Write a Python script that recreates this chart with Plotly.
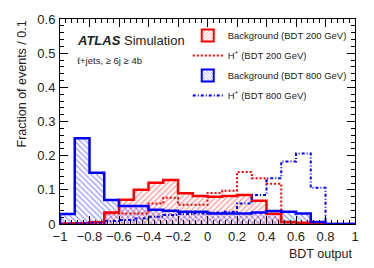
import numpy as np
import plotly.graph_objects as go

# ---- data ----
edges = np.round(np.arange(-1.0, 1.0001, 0.1), 2)
centers = (edges[:-1] + edges[1:]) / 2

bkg200 = [0.001, 0.002, 0.005, 0.034, 0.071, 0.100, 0.121, 0.129, 0.090, 0.082,
          0.080, 0.082, 0.085, 0.068, 0.030, 0.006, 0.004, 0.002, 0.0, 0.0]
hp200 = [0.002, 0.002, 0.003, 0.031, 0.031, 0.031, 0.060, 0.077, 0.056, 0.056,
         0.091, 0.097, 0.152, 0.134, 0.118, 0.004, 0.002, 0.001, 0.0, 0.0]
bkg800 = [0.029, 0.251, 0.150, 0.070, 0.053, 0.053, 0.042, 0.039, 0.036, 0.036,
          0.031, 0.031, 0.031, 0.034, 0.038, 0.036, 0.031, 0.006, 0.0, 0.0]
hp800 = [0.001, 0.002, 0.004, 0.009, 0.012, 0.016, 0.021, 0.026, 0.029, 0.031,
         0.034, 0.036, 0.060, 0.085, 0.134, 0.183, 0.206, 0.106, 0.0, 0.0]

xtick_vals = [-1, -0.8, -0.6, -0.4, -0.2, 0, 0.2, 0.4, 0.6, 0.8, 1]
xtick_text = ["\u22121", "\u22120.8", "\u22120.6", "\u22120.4", "\u22120.2", "0",
              "0.2", "0.4", "0.6", "0.8", "1"]
ytick_vals = [0, 0.1, 0.2, 0.3, 0.4, 0.5, 0.6]
ytick_text = ["0", "0.1", "0.2", "0.3", "0.4", "0.5", "0.6"]

RED = "#ff0000"
BLUE = "#0000ff"
FONT = "Liberation Sans"


def step_xy(vals):
    xs = [edges[0]] + list(edges)
    ys = [0.0] + list(vals) + [0.0]
    return xs, ys


fig = go.Figure()

# hatched fills
fig.add_trace(go.Bar(x=centers, y=bkg200, width=0.1, showlegend=False, hoverinfo="skip",
                     marker=dict(color="rgba(255,255,255,0)", line=dict(width=0),
                                 pattern=dict(shape="/", fgcolor="rgba(255,40,40,0.9)",
                                              bgcolor="rgba(255,255,255,0)", size=4, solidity=0.35))))
fig.add_trace(go.Bar(x=centers, y=bkg800, width=0.1, showlegend=False, hoverinfo="skip",
                     marker=dict(color="rgba(255,255,255,0)", line=dict(width=0),
                                 pattern=dict(shape="\\", fgcolor="rgba(40,40,255,0.9)",
                                              bgcolor="rgba(255,255,255,0)", size=4, solidity=0.35))))

# outlines
x, y = step_xy(bkg200)
fig.add_trace(go.Scatter(x=x, y=y, mode="lines", line=dict(color=RED, width=2.5, shape="hv"),
                         showlegend=False, hoverinfo="skip"))
x, y = step_xy(hp200)
fig.add_trace(go.Scatter(x=x, y=y, mode="lines",
                         line=dict(color=RED, width=2, shape="hv", dash="2px,2px"),
                         showlegend=False, hoverinfo="skip"))
x, y = step_xy(bkg800)
fig.add_trace(go.Scatter(x=x, y=y, mode="lines", line=dict(color=BLUE, width=2.5, shape="hv"),
                         showlegend=False, hoverinfo="skip"))
x, y = step_xy(hp800)
fig.add_trace(go.Scatter(x=x, y=y, mode="lines",
                         line=dict(color=BLUE, width=2, shape="hv", dash="3px,2px,1px,2px"),
                         showlegend=False, hoverinfo="skip"))

# legend-only entries
fig.add_trace(go.Bar(x=[None], y=[None], name="Background (BDT 200 GeV)", legendgroup="a",
                     marker=dict(color="rgba(255,255,255,0)", line=dict(color=RED, width=2),
                                 pattern=dict(shape="/", fgcolor="rgba(255,40,40,0.9)",
                                              bgcolor="white", size=3, solidity=0.35))))
fig.add_trace(go.Scatter(x=[None], y=[None], mode="lines", name="H<sup>+</sup> (BDT 200 GeV)",
                         legendgroup="b", line=dict(color=RED, width=2, dash="2px,2px")))
fig.add_trace(go.Bar(x=[None], y=[None], name="Background (BDT 800 GeV)", legendgroup="c",
                     marker=dict(color="rgba(255,255,255,0)", line=dict(color=BLUE, width=2),
                                 pattern=dict(shape="\\", fgcolor="rgba(40,40,255,0.9)",
                                              bgcolor="white", size=3, solidity=0.35))))
fig.add_trace(go.Scatter(x=[None], y=[None], mode="lines", name="H<sup>+</sup> (BDT 800 GeV)",
                         legendgroup="d", line=dict(color=BLUE, width=2, dash="3px,2px,1px,2px")))

axis_common = dict(showgrid=False, zeroline=False, showline=True, linecolor="black",
                   linewidth=1, ticks="inside", ticklen=8, tickcolor="black", tickwidth=1)

fig.update_layout(
    width=374, height=268,
    margin=dict(l=60, r=19, t=13, b=44),
    plot_bgcolor="white", paper_bgcolor="white",
    barmode="overlay", bargap=0,
    hovermode=False,
    font=dict(family=FONT, size=13, color="#222"),
    xaxis=dict(range=[-1, 1], tickvals=xtick_vals, ticktext=xtick_text,
               minor=dict(dtick=0.04, ticks="inside", ticklen=4, tickcolor="black"),
               tickfont=dict(size=13), **axis_common),
    yaxis=dict(range=[0, 0.6], tickvals=ytick_vals, ticktext=ytick_text,
               minor=dict(dtick=0.02, ticks="inside", ticklen=4, tickcolor="black"),
               tickfont=dict(size=13), ticklabelstandoff=1, **axis_common),
    xaxis2=dict(range=[-1, 1], overlaying="x", side="top", showticklabels=False,
                tickvals=xtick_vals,
                minor=dict(dtick=0.04, ticks="inside", ticklen=4, tickcolor="black"),
                **axis_common),
    yaxis2=dict(range=[0, 0.6], overlaying="y", side="right", showticklabels=False,
                tickvals=ytick_vals,
                minor=dict(dtick=0.02, ticks="inside", ticklen=4, tickcolor="black"),
                **axis_common),
    legend=dict(x=0.433, y=0.99, xanchor="left", yanchor="top", bgcolor="rgba(0,0,0,0)",
                font=dict(family=FONT, size=9.5, color="#222"), tracegroupgap=1,
                itemwidth=30),
)

# dummy traces to activate secondary axes
fig.add_trace(go.Scatter(x=[None], y=[None], xaxis="x2", yaxis="y2", showlegend=False))

fig.add_annotation(text="<b><i>ATLAS</i></b> Simulation", xref="paper", yref="paper",
                   x=(75 - 60) / 295, y=(224 - 35) / 211, xanchor="left", yanchor="middle",
                   showarrow=False, font=dict(family=FONT, size=13, color="#222"))
fig.add_annotation(text="\u2113+jets, \u2265 6j \u2265 4b", xref="paper", yref="paper",
                   x=(75 - 60) / 295, y=(224 - 56) / 211, xanchor="left", yanchor="middle",
                   showarrow=False, font=dict(family=FONT, size=9.5, color="#222"))
fig.add_annotation(text="Fraction of events / 0.1", xref="paper", yref="paper",
                   x=(21 - 60) / 295, y=1.0, xanchor="center", yanchor="top",
                   textangle=-90, showarrow=False, font=dict(family=FONT, size=12.5, color="#222"))
fig.add_annotation(text="BDT output", xref="paper", yref="paper",
                   x=1.0, y=(224 - 255) / 211, xanchor="right", yanchor="middle",
                   showarrow=False, font=dict(family=FONT, size=12.5, color="#222"))

fig.write_html("out.html", config={"displayModeBar": False},
               post_script="document.body.style.margin='0';")
